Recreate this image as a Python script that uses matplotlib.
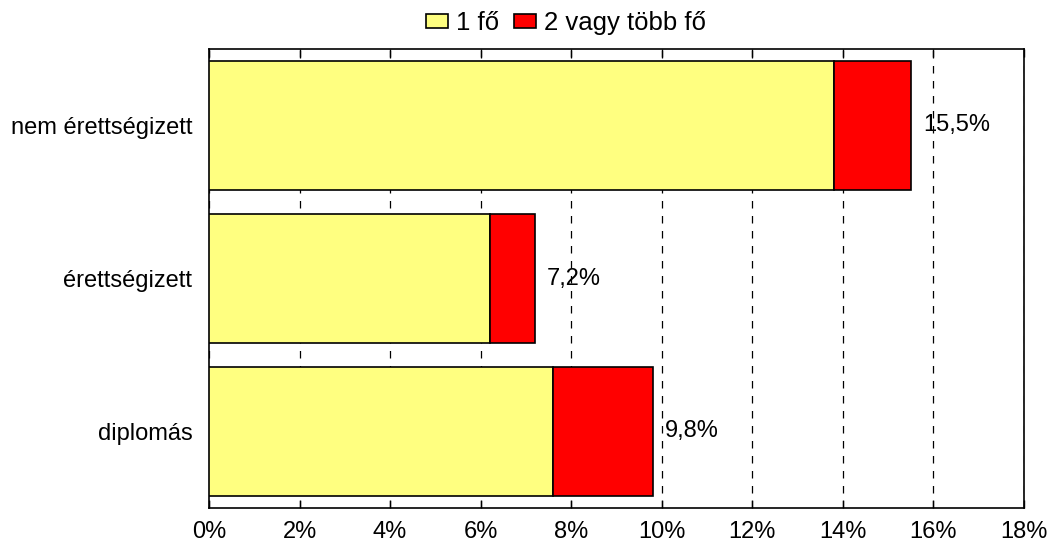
import matplotlib
matplotlib.use("Agg")
import matplotlib.pyplot as plt
import numpy as np

categories = ["nem érettségizett", "érettségizett", "diplomás"]
one_person = [13.8, 6.2, 7.6]
two_or_more = [1.7, 1.0, 2.2]
totals = [15.5, 7.2, 9.8]
total_labels = ["15,5%", "7,2%", "9,8%"]
series_names = ["1 fő", "2 vagy több fő"]
xticks = [0, 2, 4, 6, 8, 10, 12, 14, 16, 18]
xtick_labels = [f"{v}%" for v in xticks]

plt.rcParams['font.family'] = ['Liberation Sans', 'DejaVu Sans']
FS = 17

fig = plt.figure(figsize=(10.49, 5.45), dpi=100)
ax = fig.add_axes([209/1049, 37/545, 815/1049, 459/545])

y = np.arange(len(categories))[::-1]
h = 0.843
ax.barh(y, one_person, height=h, color="#FFFF80", edgecolor="black", linewidth=1.2, label=series_names[0], zorder=3)
ax.barh(y, two_or_more, left=one_person, height=h, color="#FF0000", edgecolor="black", linewidth=1.2, label=series_names[1], zorder=3)

for yi, t, lab in zip(y, totals, total_labels):
    ax.text(t + 0.27, yi, lab, va="center", ha="left", fontsize=FS, zorder=4)

ax.set_xlim(0, 18)
ax.set_ylim(-0.5, 2.5)
ax.set_xticks(xticks)
ax.set_xticklabels(xtick_labels, fontsize=FS)
ax.set_yticks(y)
ax.set_yticklabels(categories, fontsize=FS)
ax.tick_params(axis="x", direction="in", top=True, length=6, width=1, pad=9)
ax.tick_params(axis="y", length=0, pad=12)
ax.xaxis.grid(True, linestyle=(0, (6, 6)), color="black", linewidth=0.9, zorder=1)
for s in ax.spines.values():
    s.set_linewidth(1.2)

fig.legend(loc="center", bbox_to_anchor=(566/1049, 1 - 23/545), ncol=2, frameon=False,
           fontsize=18.5, handlelength=0.85, handleheight=0.49, handletextpad=0.3,
           columnspacing=0.58, borderaxespad=0.0, borderpad=0.0)

fig.savefig("out.png", dpi=100)
